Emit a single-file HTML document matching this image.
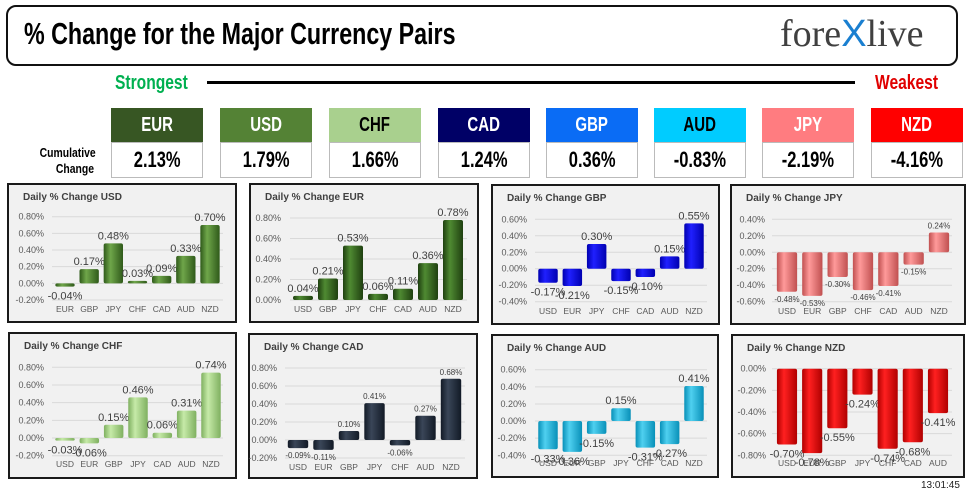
<!DOCTYPE html>
<html><head><meta charset="utf-8">
<style>
body{margin:0;width:975px;height:495px;background:#fff;overflow:hidden;position:relative;font-family:"Liberation Sans",sans-serif}
.a{position:absolute}
.cond{font-family:"Liberation Sans Narrow","Liberation Sans",sans-serif;font-weight:bold}
.hb{position:absolute;width:92px;height:34px;top:108px;display:flex;align-items:center;justify-content:center;font-size:20px;color:#fff}
.vb{position:absolute;width:90px;height:34px;top:142px;border:1px solid #bbb;display:flex;align-items:center;justify-content:center;font-size:22px;color:#000}
.hb span,.vb span{display:inline-block;transform:scaleX(0.75)}
</style></head><body>
<div class="a" style="left:6px;top:5px;width:948px;height:57px;border:2px solid #111;border-radius:10px"></div>
<div class="a cond" style="left:24px;top:16px;font-size:31px;transform:scaleX(0.75);transform-origin:left;white-space:nowrap;color:#000">% Change for the Major Currency Pairs</div>
<div class="a" style="left:780px;top:12px;font-family:'Liberation Serif',serif;font-size:38px;color:#404040;white-space:nowrap">fore<span style="color:#1a7fd0;font-family:'Liberation Sans',sans-serif">X</span>live</div>
<div class="a cond" style="left:115px;top:72px;font-size:20px;color:#00b050;transform:scaleX(0.78);transform-origin:left">Strongest</div>
<div class="a" style="left:207px;top:81px;width:648px;height:3px;background:#000"></div>
<div class="a cond" style="left:875px;top:72px;font-size:20px;color:#e00000;transform:scaleX(0.78);transform-origin:left">Weakest</div>
<div class="a cond" style="left:26px;top:145px;font-size:13px;text-align:right;width:68px;line-height:16px;transform:scaleX(0.8);transform-origin:right">Cumulative<br>Change</div>
<div id="boxes"></div>
<svg id="s" class="a" style="left:0;top:0" width="975" height="495"></svg>
<div class="a" style="left:921px;top:480px;font-size:10px;color:#222">13:01:45</div>
<script>
var B=[["EUR","#375623","#fff","2.13%"],["USD","#548235","#fff","1.79%"],["CHF","#a9d08e","#000","1.66%"],["CAD","#000066","#fff","1.24%"],["GBP","#0a6cf5","#fff","0.36%"],["AUD","#00ccff","#000","-0.83%"],["JPY","#ff7c80","#fff","-2.19%"],["NZD","#ff0000","#fff","-4.16%"]];
var xs=[111,220,329,438,546,654,762,871],h="";
B.forEach(function(b,i){h+='<div class="hb cond" style="left:'+xs[i]+'px;background:'+b[1]+';color:'+b[2]+'"><span>'+b[0]+'</span></div><div class="vb cond" style="left:'+xs[i]+'px"><span>'+b[3]+'</span></div>';});
document.getElementById("boxes").innerHTML=h;
var C=[
{p:[7,183,230,140],t:"USD",ticks:[0.8,-0.2],ty:[216.7,300],lx:44,g:[52,223],cats:["EUR","GBP","JPY","CHF","CAD","AUD","NZD"],cx:[65,210],cy:312,v:[-0.04,0.17,0.48,0.03,0.09,0.33,0.70],c:["#6fa64a","#2f5a1a"],fs:11},
{p:[249,183,230,140],t:"EUR",ticks:[0.8,0],ty:[218,300],lx:281,g:[290,467],cats:["USD","GBP","JPY","CHF","CAD","AUD","NZD"],cx:[303,453],cy:312,v:[0.04,0.21,0.53,0.06,0.11,0.36,0.78],c:["#4f8a32","#1f4010"],fs:11},
{p:[491,184,229,141],t:"GBP",ticks:[0.6,-0.4],ty:[219.3,301.7],lx:527,g:[535,707],cats:["USD","EUR","JPY","CHF","CAD","AUD","NZD"],cx:[548,694],cy:314,v:[-0.17,-0.21,0.30,-0.15,-0.10,0.15,0.55],c:["#2020ff","#0000b0"],fs:11},
{p:[730,184,236,141],t:"JPY",ticks:[0.4,-0.6],ty:[219.3,301.7],lx:765,g:[772,952],cats:["USD","EUR","GBP","CHF","CAD","AUD","NZD"],cx:[787,939],cy:314,v:[-0.48,-0.53,-0.30,-0.46,-0.41,-0.15,0.24],c:["#ff9a9a","#c05050"],fs:8},
{p:[8,332,229,147],t:"CHF",ticks:[0.8,-0.2],ty:[367.3,455.7],lx:44,g:[52,223],cats:["USD","EUR","GBP","JPY","CAD","AUD","NZD"],cx:[65,211],cy:467,v:[-0.03,-0.06,0.15,0.46,0.06,0.31,0.74],c:["#c6eaa8","#7fb060"],fs:11},
{p:[248,333,230,146],t:"CAD",ticks:[0.8,-0.2],ty:[368,458],lx:277,g:[285,465],cats:["USD","EUR","GBP","JPY","CHF","AUD","NZD"],cx:[298,451],cy:470,v:[-0.09,-0.11,0.10,0.41,-0.06,0.27,0.68],c:["#3a4658","#121a26"],fs:8},
{p:[491,334,228,144],t:"AUD",ticks:[0.6,-0.4],ty:[369.7,455.3],lx:526,g:[535,707],cats:["USD","EUR","GBP","JPY","CHF","CAD","NZD"],cx:[548,694],cy:466,v:[-0.33,-0.36,-0.15,0.15,-0.31,-0.27,0.41],c:["#4fd0f0","#0890b8"],fs:11},
{p:[731,334,234,144],t:"NZD",ticks:[0,-0.8],ty:[368.7,455.3],lx:766,g:[772,952],cats:["USD","EUR","GBP","JPY","CHF","CAD","AUD"],cx:[787,938],cy:466,v:[-0.70,-0.78,-0.55,-0.24,-0.74,-0.68,-0.41],c:["#ff2020","#b00000"],fs:11}];
var s="",defs="<defs>";
C.forEach(function(o,k){
 defs+='<linearGradient id="g'+k+'" x1="0" x2="1"><stop offset="0" stop-color="'+o.c[1]+'"/><stop offset="0.35" stop-color="'+o.c[0]+'"/><stop offset="1" stop-color="'+o.c[1]+'"/></linearGradient>';
 var p=o.p;
 s+='<rect x="'+(p[0]+1)+'" y="'+(p[1]+1)+'" width="'+(p[2]-2)+'" height="'+(p[3]-2)+'" fill="#f1f1f1" stroke="#1a1a1a" stroke-width="2"/>';
 s+='<text x="'+(p[0]+16)+'" y="'+(p[1]+17)+'" font-size="10" font-weight="bold" fill="#404040">Daily % Change '+o.t+'</text>';
 var tmax=o.ticks[0],tmin=o.ticks[1],n=Math.round((tmax-tmin)/0.2);
 function Y(v){return o.ty[0]+(tmax-v)/(tmax-tmin)*(o.ty[1]-o.ty[0]);}
 for(var i=0;i<=n;i++){var v=tmax-i*0.2,y=Y(v);
  s+='<line x1="'+o.g[0]+'" x2="'+o.g[1]+'" y1="'+y+'" y2="'+y+'" stroke="#d9d9d9" stroke-width="1"/>';
  s+='<text x="'+o.lx+'" y="'+(y+3)+'" font-size="9" text-anchor="end" fill="#595959">'+v.toFixed(2).replace("-0.00","0.00")+'%</text>';}
 var sp=(o.cx[1]-o.cx[0])/6,bw=sp*0.8,y0=Y(0);
 o.cats.forEach(function(c,i){var x=o.cx[0]+i*sp,v=o.v[i],y=Y(v);
  s+='<text x="'+x+'" y="'+o.cy+'" font-size="8.5" text-anchor="middle" fill="#595959">'+c+'</text>';
  var top=Math.min(y,y0),hh=Math.max(Math.abs(y-y0),2);
  s+='<rect x="'+(x-bw/2)+'" y="'+top+'" width="'+bw+'" height="'+hh+'" fill="url(#g'+k+')" rx="2"/>';
  var ly=v>=0?y-4:y+o.fs+2;
  s+='<text x="'+x+'" y="'+ly+'" font-size="'+o.fs+'" text-anchor="middle" fill="#404040">'+v.toFixed(2)+'%</text>';});
});
document.getElementById("s").innerHTML=defs+"</defs>"+s;
</script>
</body></html>
